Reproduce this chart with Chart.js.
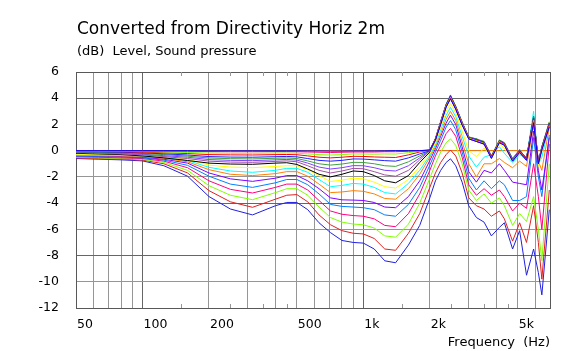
<!DOCTYPE html>
<html><head><meta charset="utf-8">
<script src="https://cdn.jsdelivr.net/npm/chart.js@4/dist/chart.umd.min.js"></script>
<style>html,body{margin:0;padding:0;background:#fff;}canvas{display:block;}</style>
</head><body>
<div style="width:578px;height:351px;position:relative"><canvas id="c" width="578" height="351"></canvas></div>
<script>
const chartTitle = 'Converted from Directivity Horiz 2m';
const chartSubtitle = '(dB)  Level, Sound pressure';
const xAxisTitle = 'Frequency  (Hz)';

const freq = [50,63,80,100,125,160,200,250,315,400,450,500,560,630,710,800,900,1000,1120,1250,1400,1600,1800,2000,2120,2240,2370,2480,2620,2800,3000,3250,3520,3800,4130,4350,4740,5100,5480,5900,6200,6430,6950];

const deg0  = [0,0,0,0,0,0,0,0,0,0,0,0,0,0,0,0,0,0,0,0,0,0,0,0,0,0,0,0,0,0,0,0,0,0,0,0,0,0,0,0,0,0,0];
const deg5  = [0,0,0,0,0,0,-0.01,-0.01,-0.01,-0.01,-0.01,-0.01,-0.02,-0.02,-0.03,-0.03,-0.02,-0.02,-0.02,-0.01,0,0,0,0.05,0.8,2.0,3.3,3.95,3.15,1.95,0.9,0.7,0.5,-0.6,0.6,0.4,-0.8,-0.15,-0.75,2.1,-1.0,0.05,1.8];
const deg10 = [-0.01,-0.02,-0.02,-0.03,-0.04,-0.05,-0.07,-0.08,-0.08,-0.07,-0.07,-0.08,-0.1,-0.12,-0.14,-0.12,-0.1,-0.1,-0.1,-0.08,-0.08,-0.05,0,0.05,0.85,2.05,3.35,4.0,3.2,2.0,0.9,0.7,0.5,-0.55,0.65,0.45,-0.8,-0.1,-0.7,2.2,-1.0,0.1,1.9];
const deg15 = [-0.03,-0.04,-0.05,-0.07,-0.1,-0.14,-0.18,-0.2,-0.2,-0.18,-0.18,-0.19,-0.25,-0.3,-0.33,-0.3,-0.25,-0.26,-0.27,-0.25,-0.26,-0.15,-0.05,0.05,0.85,2.1,3.4,4.05,3.25,2.05,0.95,0.75,0.55,-0.55,0.7,0.45,-0.75,-0.1,-0.7,2.3,-1.0,0.1,1.9];
const deg20 = [-0.05,-0.06,-0.08,-0.12,-0.16,-0.22,-0.3,-0.32,-0.33,-0.3,-0.29,-0.31,-0.4,-0.5,-0.55,-0.5,-0.43,-0.44,-0.48,-0.5,-0.52,-0.32,-0.1,0.05,0.9,2.15,3.45,4.1,3.3,2.1,0.95,0.8,0.6,-0.5,0.7,0.5,-0.75,-0.05,-0.65,2.4,-0.95,0.15,2.0];
const deg25 = [-0.07,-0.09,-0.12,-0.17,-0.24,-0.33,-0.45,-0.49,-0.5,-0.46,-0.44,-0.47,-0.6,-0.74,-0.8,-0.74,-0.63,-0.64,-0.7,-0.76,-0.8,-0.55,-0.25,0,0.9,2.2,3.5,4.2,3.35,2.15,1.0,0.85,0.65,-0.45,0.75,0.55,-0.7,0,-0.6,2.5,-0.9,0.2,2.1];
const deg30 = [-0.1,-0.12,-0.16,-0.22,-0.3,-0.42,-0.56,-0.61,-0.63,-0.58,-0.56,-0.6,-0.78,-1.0,-1.1,-1.02,-0.89,-0.9,-1.0,-1.15,-1.2,-0.85,-0.4,0,0.95,2.25,3.55,4.25,3.4,2.2,1.05,0.9,0.7,-0.4,0.8,0.6,-0.6,0.05,-0.6,2.6,-0.9,0.3,2.2];
const deg35 = [-0.12,-0.15,-0.2,-0.27,-0.38,-0.5,-0.68,-0.74,-0.76,-0.7,-0.67,-0.72,-0.95,-1.25,-1.4,-1.3,-1.14,-1.15,-1.3,-1.5,-1.55,-1.15,-0.55,0,0.9,2.2,3.5,4.15,3.35,2.15,1.05,0.85,0.65,-0.45,0.75,0.55,-0.65,0,-0.55,2.5,-0.85,0.25,2.1];
const deg40 = [-0.15,-0.2,-0.25,-0.32,-0.45,-0.6,-0.8,-0.87,-0.89,-0.82,-0.78,-0.85,-1.15,-1.5,-1.7,-1.55,-1.35,-1.38,-1.6,-1.85,-1.95,-1.5,-0.7,0,0.9,2.2,3.5,4.1,3.3,2.1,1.0,0.8,0.7,-0.4,0.7,0.5,-0.6,0.1,-0.7,2.4,-0.8,0.2,2.0];
const deg45 = [-0.2,-0.25,-0.3,-0.4,-0.55,-0.75,-0.95,-1.02,-1.04,-0.95,-0.92,-1.05,-1.4,-1.8,-2.0,-1.8,-1.55,-1.6,-1.9,-2.3,-2.45,-1.9,-0.9,-0.1,0.8,2.1,3.4,4.0,3.2,2.0,1.0,0.9,0.6,-0.5,0.8,0.6,-0.7,0,-0.6,2.6,-0.9,0.3,2.1];
const deg50 = [-0.28,-0.3,-0.32,-0.35,-0.45,-0.65,-1.1,-1.25,-1.3,-1.2,-1.15,-1.15,-1.45,-1.9,-2.35,-2.25,-2.1,-2.15,-2.4,-2.75,-2.85,-2.2,-1.2,-0.2,0.6,1.8,3.0,3.6,2.9,1.5,0.0,-0.45,0.2,-0.4,0.5,0.2,-0.8,-0.1,-0.6,2.2,-1.2,0.0,2.2];
const deg55 = [-0.32,-0.34,-0.36,-0.4,-0.5,-0.75,-1.27,-1.55,-1.65,-1.5,-1.35,-1.35,-1.65,-2.2,-2.75,-2.65,-2.5,-2.55,-2.8,-3.2,-3.3,-2.5,-1.5,-0.35,0.45,1.6,2.7,3.3,2.6,1.1,-0.4,-1.25,-0.5,-0.3,0.3,-0.2,-0.9,-0.3,-0.6,3.0,-1.0,-0.5,2.0];
const deg60 = [-0.35,-0.37,-0.4,-0.45,-0.58,-0.85,-1.45,-1.8,-1.9,-1.75,-1.6,-1.6,-1.95,-2.55,-3.2,-3.15,-3.05,-3.1,-3.3,-3.65,-3.7,-2.9,-1.8,-0.5,0.3,1.3,2.4,3.0,2.3,0.7,-1.0,-2.0,-1.0,-1.0,-0.6,-0.9,-1.3,-0.8,-1.2,2.0,-0.8,-1.5,1.8];
const deg65 = [-0.38,-0.4,-0.45,-0.5,-0.65,-0.95,-1.7,-2.15,-2.34,-2.1,-1.9,-1.9,-2.3,-2.9,-3.6,-3.75,-3.77,-3.8,-3.95,-4.3,-4.35,-3.5,-2.3,-0.75,0.15,1.1,2.1,2.7,2.0,0.3,-1.6,-2.4,-1.5,-1.7,-1.0,-1.5,-2.4,-2.5,-2.6,1.5,-1.5,-3.0,1.0];
const deg70 = [-0.42,-0.45,-0.5,-0.55,-0.72,-1.12,-1.95,-2.55,-2.8,-2.45,-2.2,-2.2,-2.6,-3.3,-4.1,-4.25,-4.3,-4.35,-4.5,-4.9,-5.0,-4.1,-2.8,-1.1,-0.1,0.8,1.8,2.3,1.6,-0.1,-2.1,-3.0,-2.3,-2.9,-2.3,-2.6,-3.8,-3.8,-3.5,1.0,-2.0,-3.5,1.2];
const deg75 = [-0.45,-0.5,-0.55,-0.6,-0.8,-1.3,-2.3,-2.95,-3.23,-2.8,-2.55,-2.55,-3.0,-3.8,-4.6,-4.85,-4.95,-5.0,-5.2,-5.7,-5.8,-4.8,-3.3,-1.5,-0.4,0.4,1.3,1.7,1.1,-0.5,-2.6,-3.4,-2.9,-3.4,-3.0,-3.5,-4.6,-4.0,-4.4,-1.0,-3.5,-6.0,0.5];
const deg80 = [-0.5,-0.55,-0.6,-0.66,-0.9,-1.5,-2.67,-3.4,-3.74,-3.2,-2.9,-2.9,-3.4,-4.3,-5.1,-5.45,-5.6,-5.65,-5.9,-6.5,-6.6,-5.6,-4.0,-2.1,-1.0,-0.1,0.6,0.9,0.4,-1.0,-3.0,-3.8,-3.3,-4.0,-3.6,-4.2,-5.7,-4.8,-5.4,-3.5,-6.0,-8.4,-1.0];
const deg85 = [-0.55,-0.6,-0.65,-0.72,-1.0,-1.7,-3.05,-3.9,-4.32,-3.7,-3.4,-3.35,-3.9,-4.9,-5.65,-6.1,-6.3,-6.35,-6.7,-7.5,-7.6,-6.3,-4.8,-2.8,-1.7,-0.9,-0.3,0.05,-0.4,-1.7,-3.6,-4.2,-4.45,-5.0,-4.6,-5.2,-6.9,-5.5,-7.0,-4.2,-7.0,-9.8,-3.0];
const deg90 = [-0.6,-0.65,-0.7,-0.78,-1.15,-1.95,-3.5,-4.45,-4.9,-4.2,-3.95,-3.95,-4.5,-5.5,-6.25,-6.85,-7.0,-7.05,-7.5,-8.4,-8.55,-7.2,-5.7,-3.6,-2.3,-1.5,-0.9,-0.62,-1.15,-2.4,-4.2,-5.1,-5.45,-6.5,-5.85,-5.5,-7.5,-6.1,-9.5,-7.5,-9.3,-11.0,-4.5];

const seriesNames = ['5°','10°','15°','20°','25°','30°','35°','40°','45°','50°','55°','60°','65°','70°','75°','80°','85°','90°','0°'];
const seriesValues = [deg5,deg10,deg15,deg20,deg25,deg30,deg35,deg40,deg45,deg50,deg55,deg60,deg65,deg70,deg75,deg80,deg85,deg90,deg0];
const seriesColors = ['#0000ff','#ff0080','#80ff00','#ff0000','#2020ff','#40a040','#8040ff','#a050a0','#000000','#ffff00','#00ffff','#ff8000','#8000ff','#0080ff','#ff0080','#80ff00','#e02020','#2020e0','#ff8000'];

const yMin = -12, yMax = 6, yStep = 2;
const yMajor = [4, 0, -4, -8];
const xMin = 50, xMax = 7000;
const xGrid = [50,60,70,80,90,100,200,300,400,500,600,700,800,900,1000,2000,3000,4000,5000,6000,7000];
const xMajor = [100, 1000];
const xLabelMap = {50:'50',100:'100',200:'200',500:'500',1000:'1k',2000:'2k',5000:'5k'};
const xMinorTicks = [150,250,350,450,1500,2500,3500,4500];

const FONT = '"DejaVu Sans", Verdana, sans-serif';
const gridMinor = '#969696';
const gridMajor = '#666666';
const frameColor = '#585858';

const extras = {
  id: 'extras',
  beforeDatasetsDraw(chart) {
    const ctx = chart.ctx, a = chart.chartArea, xs = chart.scales.x;
    ctx.save();
    ctx.strokeStyle = gridMinor;
    ctx.lineWidth = 1;
    ctx.beginPath();
    xMinorTicks.forEach(v => {
      const px = Math.round(xs.getPixelForValue(v)) + 0.5;
      ctx.moveTo(px, a.top); ctx.lineTo(px, a.top + 4);
      ctx.moveTo(px, a.bottom); ctx.lineTo(px, a.bottom - 4);
    });
    ctx.stroke();
    ctx.restore();
  },
  afterDraw(chart) {
    const ctx = chart.ctx;
    ctx.save();
    ctx.fillStyle = '#000';
    ctx.textAlign = 'left';
    ctx.textBaseline = 'alphabetic';
    ctx.font = '17px ' + FONT;
    ctx.fillText(chartTitle, 77, 34);
    ctx.font = '13px ' + FONT;
    ctx.fillText(chartSubtitle, 77, 55);
    ctx.restore();
  }
};

const datasets = seriesValues.map((vals, i) => ({
  label: seriesNames[i],
  data: freq.map((f, j) => ({x: f, y: vals[j]})),
  borderColor: seriesColors[i],
  backgroundColor: seriesColors[i],
  borderWidth: 1,
  pointRadius: 0,
  tension: 0,
  fill: false
}));

new Chart(document.getElementById('c'), {
  type: 'line',
  data: {datasets},
  options: {
    responsive: false,
    devicePixelRatio: 1,
    animation: false,
    events: [],
    layout: {padding: {top: 72, right: 28, bottom: 0, left: 0}},
    plugins: {legend: {display: false}, tooltip: {enabled: false}, title: {display: false}},
    scales: {
      x: {
        type: 'logarithmic',
        position: 'bottom',
        min: xMin, max: xMax,
        afterBuildTicks: s => { s.ticks = xGrid.map(v => ({value: v})); },
        afterFit: s => { s.height = 43; },
        ticks: {
          autoSkip: false, maxRotation: 0, minRotation: 0,
          align: 'start', padding: 9, labelOffset: 1,
          color: '#000', font: {family: FONT, size: 12.5},
          callback: v => xLabelMap[v] || ''
        },
        grid: {
          drawTicks: false,
          color: c => (c.tick && (c.tick.value === xMin || c.tick.value === xMax)) ? frameColor : (c.tick && xMajor.includes(c.tick.value) ? gridMajor : gridMinor),
          lineWidth: 1
        },
        border: {display: true, color: frameColor, width: 1},
        title: {display: true, text: xAxisTitle, align: 'end', color: '#000', font: {family: FONT, size: 13}, padding: {top: 0, bottom: 1}}
      },
      y: {
        type: 'linear',
        min: yMin, max: yMax,
        afterFit: s => { s.width = 76; },
        ticks: {
          stepSize: yStep, padding: 17, color: '#000', font: {family: FONT, size: 12.5},
          callback: v => String(v)
        },
        grid: {
          drawTicks: false,
          color: c => (c.tick && (c.tick.value === yMin || c.tick.value === yMax)) ? frameColor : (c.tick && yMajor.includes(c.tick.value) ? gridMajor : gridMinor),
          lineWidth: 1
        },
        border: {display: true, color: frameColor, width: 1}
      }
    }
  },
  plugins: [extras]
});
</script>
</body></html>
